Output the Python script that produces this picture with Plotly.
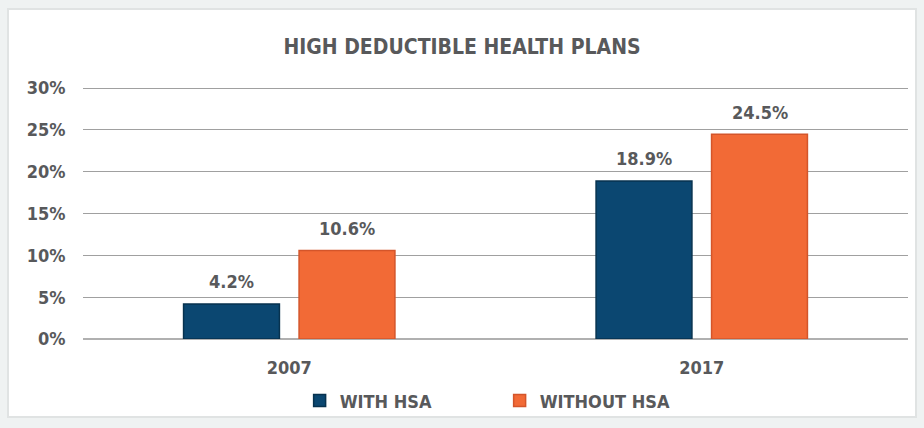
import plotly.graph_objects as go

years = ["2007", "2017"]
with_hsa = [4.2, 18.9]
without_hsa = [10.6, 24.5]
series_names = ["WITH HSA", "WITHOUT HSA"]
y_ticks = [0, 5, 10, 15, 20, 25, 30]
y_tick_labels = ["0%", "5%", "10%", "15%", "20%", "25%", "30%"]
title_text = "HIGH DEDUCTIBLE HEALTH PLANS"

FONT = "DejaVu Sans Condensed, Liberation Sans Narrow, sans-serif"
GREY = "#58595b"
BLUE = "#0b4771"
ORANGE = "#f26a36"

W, H = 924, 428
YMAX = 30.5
ML, MR, MB = 83, 16, 89
ph = round(251 * YMAX / 30)
MT = H - MB - ph
pw = W - ML - MR

def px_x(p):
    return (p - ML) / pw

def px_y(p):
    return (H - MB - p) / ph

fig = go.Figure()
fig.add_trace(go.Bar(
    x=years, y=with_hsa, name=series_names[0],
    marker=dict(color=BLUE, line=dict(color="#07324f", width=1.5)),
))
fig.add_trace(go.Bar(
    x=years, y=without_hsa, name=series_names[1],
    marker=dict(color=ORANGE, line=dict(color="#d4552a", width=1.5)),
))

annotations = []
for vals, shift in ((with_hsa, -58), (without_hsa, 58)):
    for i, v in enumerate(vals):
        annotations.append(dict(
            x=i, y=v, xref="x", yref="y", text=f"{v}%", showarrow=False,
            xshift=shift, yshift=22, yanchor="middle",
            font=dict(family=FONT, size=18, color=GREY, weight="bold")))

fig.update_layout(
    width=W, height=H,
    margin=dict(l=ML, r=MR, t=MT, b=MB, autoexpand=False),
    paper_bgcolor="#eff2f2",
    plot_bgcolor="rgba(0,0,0,0)",
    barmode="group", bargap=0.44, bargroupgap=0.17,
    title=dict(text=title_text, x=0.5, xanchor="center",
               y=1 - 47 / H, yanchor="middle",
               font=dict(family=FONT, size=21, color=GREY, weight="bold")),
    font=dict(family=FONT, color=GREY),
    showlegend=True,
    legend=dict(orientation="h", x=0.505, xanchor="center", y=-0.17, yanchor="top",
                font=dict(family=FONT, size=18, color=GREY, weight="bold"),
                bgcolor="rgba(0,0,0,0)", traceorder="normal", entrywidth=155),
    annotations=annotations,
    shapes=[dict(type="rect", xref="paper", yref="paper", layer="below",
                 x0=px_x(8), x1=px_x(916), y0=px_y(417), y1=px_y(9),
                 fillcolor="white", line=dict(color="#e0e3e3", width=2))],
)
fig.update_yaxes(range=[0, YMAX], tickvals=y_ticks, ticktext=y_tick_labels,
                 showgrid=True, gridcolor="#a0a0a0", gridwidth=1,
                 zeroline=True, zerolinecolor="#b0b0b0", zerolinewidth=2,
                 ticks="outside", ticklen=13, tickcolor="rgba(0,0,0,0)",
                 tickfont=dict(family=FONT, size=18, color=GREY, weight="bold"),
                 automargin=False, fixedrange=True)
fig.update_xaxes(type="category", range=[-0.5, len(years) - 0.5],
                 tickfont=dict(family=FONT, size=18, color=GREY, weight="bold"),
                 ticks="outside", ticklen=12, tickcolor="rgba(0,0,0,0)",
                 showline=False, automargin=False, fixedrange=True)

fig.write_html("out.html", config={"displayModeBar": False},
               post_script="document.body.style.margin='0';document.body.style.padding='0';")
